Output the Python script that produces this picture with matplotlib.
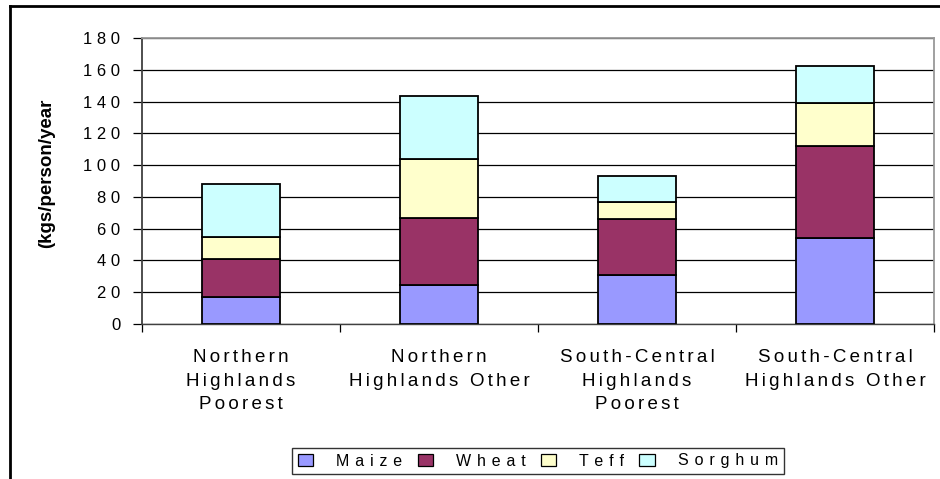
import matplotlib
matplotlib.use("Agg")
import matplotlib.pyplot as plt
from matplotlib.lines import Line2D
import numpy as np

categories = ["Northern\nHighlands\nPoorest", "Northern\nHighlands Other",
              "South-Central\nHighlands\nPoorest", "South-Central\nHighlands Other"]
series_names = ["Maize", "Wheat", "Teff", "Sorghum"]
maize = [17, 24.5, 31, 54]
wheat = [24, 42, 35, 58]
teff = [14, 37.5, 10.5, 27]
sorghum = [33, 39.5, 16.5, 23.5]
colors = ["#9999FF", "#993366", "#FFFFCC", "#CCFFFF"]
yticks = [0, 20, 40, 60, 80, 100, 120, 140, 160, 180]

plt.rcParams['font.family'] = ['Liberation Sans', 'DejaVu Sans']

HAIR = "\u200a"


def spaced(s, sep):
    return "\n".join(sep.join(list(line)) for line in s.split("\n"))


W, H = 940, 479
fig = plt.figure(figsize=(W / 100, H / 100), dpi=100)
ax = fig.add_axes([142 / W, 1 - 324 / H, (934 - 142) / W, (324 - 38) / H])

x = np.arange(len(categories))
bottom = np.zeros(len(categories))
for name, vals, c in zip(series_names, [maize, wheat, teff, sorghum], colors):
    ax.bar(x, vals, width=0.395, bottom=bottom, color=c, edgecolor="black",
           linewidth=1.3, label=name, zorder=3)
    bottom += np.array(vals)

ax.set_xlim(-0.5, len(categories) - 0.5)
ax.set_ylim(0, 180)
ax.set_yticks(yticks)
ax.set_yticklabels([spaced(str(t), " ") for t in yticks], fontsize=12)
ax.yaxis.grid(True, color="black", linewidth=0.9, zorder=0)
ax.set_axisbelow(True)

ax.set_xticks(x)
ax.set_xticklabels([spaced(c, HAIR * 2) for c in categories], fontsize=13.5, linespacing=1.5)
ax.tick_params(axis="x", length=0, pad=18)
ax.set_xticks(np.arange(-0.5, len(categories) + 0.5, 1), minor=True)
ax.tick_params(axis="x", which="minor", length=6, color="black", width=0.9, direction="out")
ax.tick_params(axis="y", length=6.5, width=0.9, color="black", direction="out", pad=9)

for s in ["top", "right"]:
    ax.spines[s].set_color("#999999")
    ax.spines[s].set_linewidth(1.3)
ax.spines["left"].set_color("#404040")
ax.spines["left"].set_linewidth(1.3)
ax.spines["bottom"].set_color("#404040")
ax.spines["bottom"].set_linewidth(1.0)

ax.set_ylabel("(kgs/person/year", fontsize=13.5, fontweight="bold")
ax.yaxis.set_label_coords(-0.110, 0.527)

handles = [plt.Rectangle((0, 0), 1, 1, facecolor=c, edgecolor="black", linewidth=0.9)
           for c in colors]
leg = fig.legend(handles, [spaced(n, " " + HAIR) for n in series_names], loc="center",
                 bbox_to_anchor=(538 / W, 1 - 461 / H),
                 ncol=4, fontsize=11.5, frameon=True, fancybox=False, edgecolor="black",
                 handlelength=0.95, handleheight=0.7, handletextpad=1.45, columnspacing=0.95,
                 borderpad=0.35, borderaxespad=0)
leg.get_frame().set_linewidth(1.0)

# outer figure border (top and left)
fig.add_artist(Line2D([10 / W, 1], [1 - 6 / H, 1 - 6 / H], transform=fig.transFigure,
                      color="black", linewidth=2))
fig.add_artist(Line2D([10 / W, 10 / W], [0, 1 - 6 / H], transform=fig.transFigure,
                      color="black", linewidth=2))

fig.savefig("out.png", dpi=100)
